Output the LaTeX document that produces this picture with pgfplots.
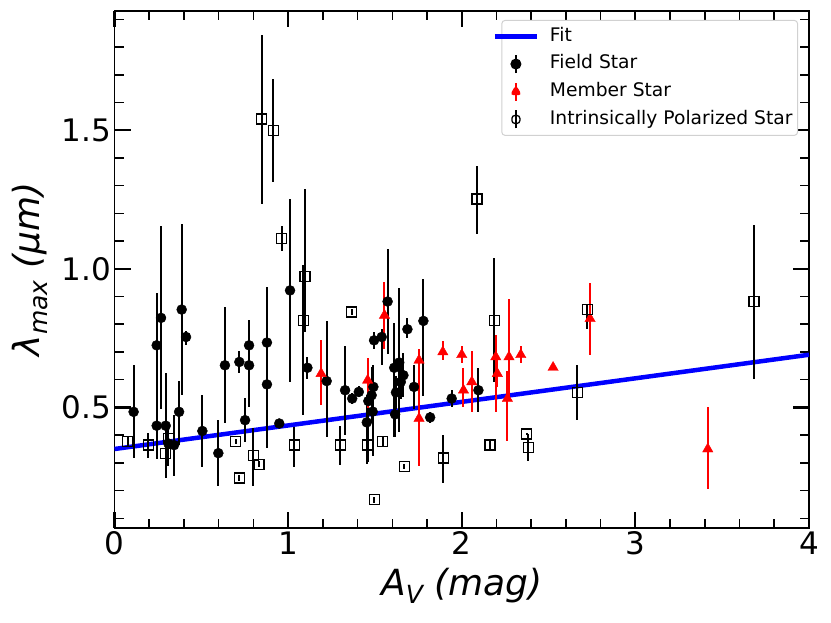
\documentclass[border=0pt]{standalone}
\usepackage{fontspec}
\setmainfont{DejaVu Sans}[ItalicFont={DejaVu Sans Oblique}]
\usepackage{pgfplots}
\usepackage{pgfplotstable}
\pgfplotsset{compat=1.18}

\pgfplotstableread{
x y ep em
0.110 0.484 0.168 0.167
0.243 0.724 0.190 0.220
0.268 0.823 0.330 0.330
0.243 0.434 0.070 0.120
0.295 0.434 0.190 0.190
0.310 0.370 0.060 0.080
0.343 0.364 0.110 0.110
0.387 0.853 0.310 0.310
0.412 0.754 0.020 0.030
0.372 0.484 0.110 0.120
0.506 0.415 0.130 0.130
0.598 0.335 0.120 0.120
0.636 0.652 0.210 0.210
0.719 0.664 0.040 0.040
0.775 0.724 0.090 0.090
0.775 0.652 0.150 0.150
0.752 0.454 0.080 0.080
0.878 0.734 0.200 0.200
0.878 0.583 0.230 0.230
0.949 0.442 0.015 0.015
1.011 0.922 0.330 0.330
1.111 0.643 0.040 0.040
1.222 0.595 0.215 0.200
1.328 0.562 0.160 0.160
1.369 0.532 0.020 0.020
1.407 0.556 0.020 0.020
1.495 0.742 0.030 0.030
1.539 0.754 0.030 0.100
1.573 0.882 0.190 0.190
1.687 0.782 0.040 0.030
1.779 0.812 0.150 0.270
1.491 0.574 0.080 0.080
1.481 0.544 0.100 0.100
1.462 0.523 0.120 0.120
1.487 0.485 0.150 0.160
1.453 0.446 0.100 0.150
1.611 0.643 0.160 0.250
1.640 0.662 0.270 0.250
1.664 0.616 0.080 0.080
1.649 0.592 0.060 0.060
1.621 0.554 0.060 0.060
1.616 0.475 0.080 0.080
1.725 0.574 0.080 0.080
1.818 0.464 0.020 0.020
1.942 0.532 0.030 0.030
2.096 0.562 0.080 0.080
}\fieldtab

\pgfplotstableread{
x y ep em
1.190 0.622 0.120 0.114
1.458 0.598 0.080 0.100
1.555 0.832 0.120 0.120
1.754 0.670 0.040 0.040
1.754 0.460 0.220 0.170
1.891 0.700 0.040 0.030
2.000 0.690 0.030 0.030
2.010 0.562 0.080 0.060
2.058 0.592 0.110 0.110
2.196 0.682 0.080 0.200
2.205 0.622 0.050 0.050
2.272 0.682 0.210 0.150
2.263 0.532 0.100 0.154
2.340 0.690 0.030 0.030
2.526 0.644 0.005 0.005
2.739 0.820 0.130 0.130
3.417 0.350 0.150 0.145
}\membertab

\pgfplotstableread{
x y ep em
0.076 0.377 0.015 0.015
0.195 0.364 0.045 0.047
0.310 0.388 0.030 0.030
0.295 0.334 0.040 0.040
0.698 0.377 0.010 0.010
0.719 0.245 0.010 0.010
0.800 0.326 0.100 0.110
0.832 0.295 0.010 0.010
0.848 1.540 0.305 0.306
0.915 1.500 0.186 0.188
0.963 1.110 0.046 0.044
1.097 0.972 0.316 0.200
1.088 0.814 0.200 0.340
1.036 0.364 0.066 0.080
1.300 0.364 0.070 0.070
1.366 0.844 0.010 0.010
1.458 0.364 0.080 0.060
1.545 0.377 0.020 0.020
1.497 0.167 0.010 0.010
1.669 0.287 0.010 0.010
1.894 0.317 0.083 0.090
2.088 1.252 0.118 0.126
2.163 0.364 0.015 0.015
2.188 0.814 0.226 0.224
2.374 0.404 0.005 0.005
2.384 0.355 0.050 0.050
2.666 0.554 0.098 0.100
2.723 0.853 0.020 0.070
3.683 0.882 0.276 0.278
}\intrtab

\begin{document}
\begin{tikzpicture}
\begin{axis}[
  at={(0,0)}, anchor=south west,
  width=694.5pt, height=517pt, scale only axis,
  xmin=0, xmax=4, ymin=0.065, ymax=1.93,
  xtick={0,1,2,3,4}, ytick={0.5,1.0,1.5},
  minor xtick={0.2,0.4,0.6,0.8,1.2,1.4,1.6,1.8,2.2,2.4,2.6,2.8,3.2,3.4,3.6,3.8},
  minor ytick={0.1,0.2,0.3,0.4,0.6,0.7,0.8,0.9,1.1,1.2,1.3,1.4,1.6,1.7,1.8,1.9},
  tick align=inside,
  major tick length=16pt, minor tick length=9pt,
  every major tick/.append style={line width=2.2pt, black},
  every minor tick/.append style={line width=1.6pt, black},
  axis line style={line width=1.2pt},
  /pgf/number format/assume math mode=true,
  tick label style={font=\fontsize{31}{37}\selectfont},
  yticklabel style={/pgf/number format/.cd, fixed, fixed zerofill, precision=1},
  xticklabel style={/pgf/number format/.cd, fixed, precision=0},
  label style={font=\fontsize{36}{43}\selectfont\itshape},
  xlabel style={yshift=-6pt},
  ylabel style={yshift=7pt},
  xlabel={A\raisebox{-0.22em}{\fontsize{25}{30}\selectfont V} (mag)},
  ylabel={λ\raisebox{-0.22em}{\fontsize{25}{30}\selectfont max} (μm)},
  legend cell align=left,
  legend style={at={(1,1)}, anchor=north east, xshift=-11pt, yshift=-9pt,
    font=\fontsize{18.7}{22}\selectfont, draw=black!18, line width=1pt,
    rounded corners=3pt, fill=white, inner xsep=1pt, inner ysep=2pt,
    nodes={text height=14pt, text depth=4.5pt, inner ysep=4.6pt, inner xsep=4pt}},
]
\coordinate (sw) at (rel axis cs:0,0);
\coordinate (ne) at (rel axis cs:1,1);

\addplot[blue, line width=4.5pt,
  legend image code/.code={\path[draw=none,fill=none] (8pt,0pt) -- (51pt,0pt); \draw[blue, line width=4.5pt, overlay] (0pt,0pt) -- (42pt,0pt);}]
  coordinates {(0,0.35) (4,0.69)};
\addlegendentry{Fit}

\addplot[only marks, mark=*, black, mark size=5pt,
  legend image code/.code={\path[draw=none,fill=none] (8pt,0pt) -- (51pt,0pt); \draw[black, line width=2pt] (21pt,-9pt) -- (21pt,9pt); \fill[black] (21pt,0pt) circle (5pt);},
  error bars/.cd, y dir=both, y explicit, error mark=none,
  error bar style={line width=2pt, black}]
  table[x=x, y=y, y error plus=ep, y error minus=em] {\fieldtab};
\addlegendentry{Field Star}

\addplot[only marks, mark=triangle*, red, mark size=6pt,
  legend image code/.code={\path[draw=none,fill=none] (8pt,0pt) -- (51pt,0pt); \draw[red, line width=2pt] (21pt,-9pt) -- (21pt,9pt); \fill[red] (21pt,6pt) -- (15.8pt,-3pt) -- (26.2pt,-3pt) -- cycle;},
  error bars/.cd, y dir=both, y explicit, error mark=none,
  error bar style={line width=2pt, red}]
  table[x=x, y=y, y error plus=ep, y error minus=em] {\membertab};
\addlegendentry{Member Star}

\addplot[only marks, mark=square, black, mark size=5pt, mark options={line width=1.3pt},
  legend image code/.code={\path[draw=none,fill=none] (8pt,0pt) -- (51pt,0pt); \draw[black, line width=2pt] (21pt,-9pt) -- (21pt,9pt); \draw[black, line width=1.3pt] (17pt,-4pt) rectangle (25pt,4pt);},
  error bars/.cd, y dir=both, y explicit, error mark=none,
  error bar style={line width=2pt, black}]
  table[x=x, y=y, y error plus=ep, y error minus=em] {\intrtab};
\addlegendentry{Intrinsically Polarized Star}
\end{axis}
\pgfresetboundingbox
\path ([shift={(-114.5pt,-94pt)}]sw) rectangle ([shift={(22pt,11pt)}]ne);
\end{tikzpicture}
\end{document}
